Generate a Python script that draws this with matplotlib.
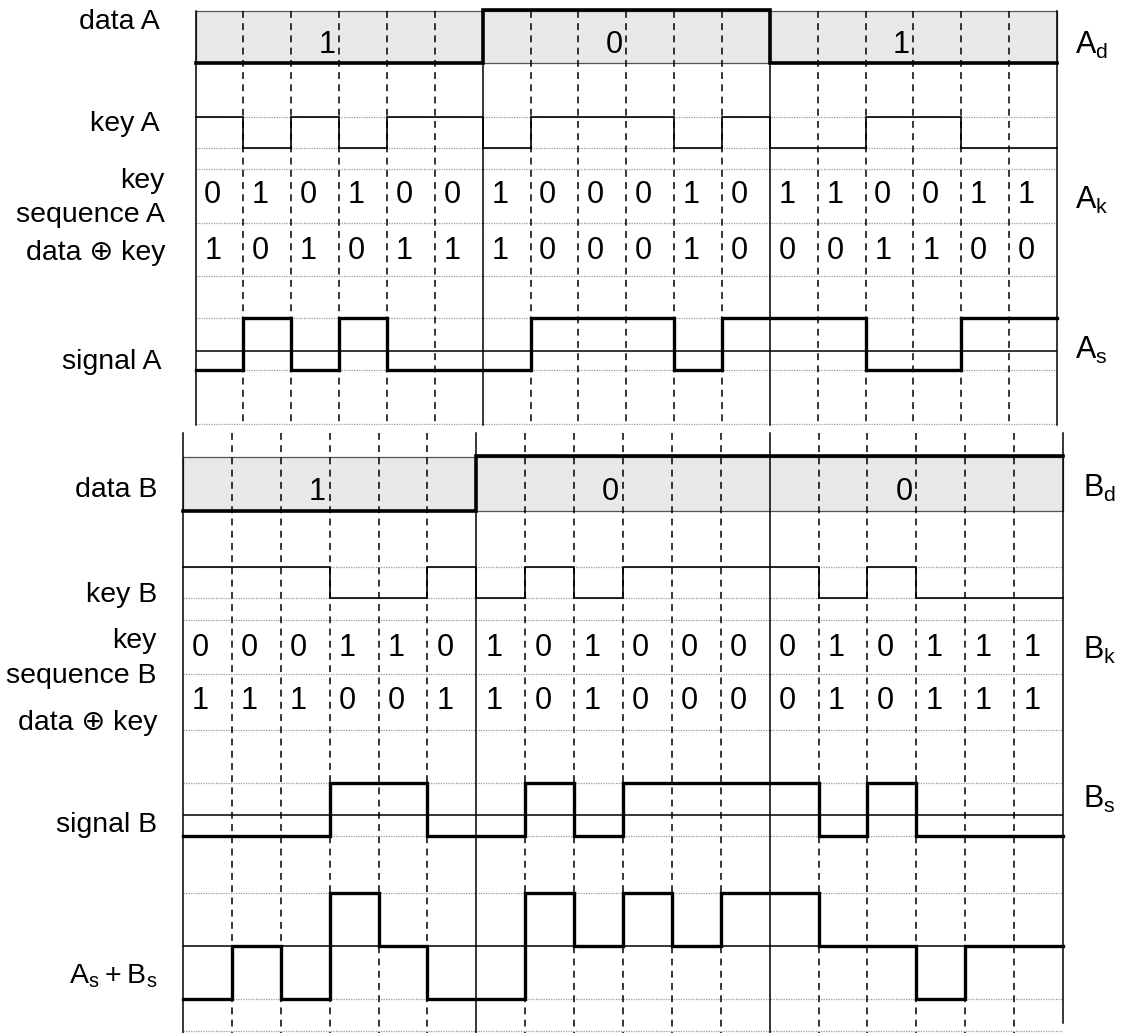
import matplotlib
matplotlib.use("Agg")
import matplotlib.pyplot as plt
from matplotlib.patches import Rectangle
import numpy as np

W, H = 1121, 1033
plt.rcParams['font.family'] = ['Liberation Sans', 'DejaVu Sans']
plt.rcParams['mathtext.default'] = 'regular'

# ── data ──────────────────────────────────────────────────────────
n_bits = 18
data_a = [1, 0, 1]
key_a = [0, 1, 0, 1, 0, 0, 1, 0, 0, 0, 1, 0, 1, 1, 0, 0, 1, 1]
xor_a = [1, 0, 1, 0, 1, 1, 1, 0, 0, 0, 1, 0, 0, 0, 1, 1, 0, 0]
signal_a = [-1, 1, -1, 1, -1, -1, -1, 1, 1, 1, -1, 1, 1, 1, -1, -1, 1, 1]

data_b = [1, 0, 0]
key_b = [0, 0, 0, 1, 1, 0, 1, 0, 1, 0, 0, 0, 0, 1, 0, 1, 1, 1]
xor_b = [1, 1, 1, 0, 0, 1, 1, 0, 1, 0, 0, 0, 0, 1, 0, 1, 1, 1]
signal_b = [-1, -1, -1, 1, 1, -1, -1, 1, -1, 1, 1, 1, 1, -1, 1, -1, -1, -1]

sum_ab = [-2, 0, -2, 2, 0, -2, -2, 2, 0, 2, 0, 2, 2, 0, 0, -2, 0, 0]

fig = plt.figure(figsize=(W / 100, H / 100), dpi=100)

DOT = dict(color="#9a9a9a", lw=0.9, ls=(0, (1, 1)), zorder=1)
DIG = dict(fontsize=22, ha="center", va="center")


def panel(left, right, top, bottom):
    # y axis in image pixels (downwards), x axis in bit periods
    ax = fig.add_axes([left / W, 1 - bottom / H, (right - left) / W, (bottom - top) / H])
    ax.set_xlim(0, n_bits)
    ax.set_ylim(bottom, top)
    ax.axis("off")
    return ax


def wave(ax, vals, y_hi, y_lo, v_hi, v_lo, lw):
    vals = np.asarray(vals, float)
    x = np.linspace(0, n_bits, len(vals) + 1)
    y = y_hi + (v_hi - vals) / (v_hi - v_lo) * (y_lo - y_hi)
    y = np.append(y, y[-1])
    ax.step(x, y, where="post", color="black", lw=lw, zorder=5,
            solid_joinstyle="miter", clip_on=False)


def grid_lines(ax, top, bottom, right_bottom=None):
    for i in range(n_bits + 1):
        if i % 6 == 0:
            b = right_bottom if (i == n_bits and right_bottom) else bottom
            ax.plot([i, i], [top, b], color="black", lw=1.1, zorder=3, clip_on=False)
        else:
            ax.plot([i, i], [top, bottom], color="black", lw=1.1,
                    ls=(0, (4.5, 3.5)), zorder=3, clip_on=False)


def data_box(ax, vals, top, bottom):
    ax.add_patch(Rectangle((0, top), n_bits, bottom - top, facecolor="#e8e8e8",
                           edgecolor="#555555", lw=0.9, zorder=0, clip_on=False))
    wave(ax, vals, top - 1.5, bottom, 0, 1, 2.6)
    for k, v in enumerate(vals):
        ax.text(k * 6 + 3 - 0.08, (top + bottom) / 2 + 8, str(v), fontsize=22,
                ha="right", va="center", zorder=6)


def digits(ax, vals, y):
    for i, v in enumerate(vals):
        ax.text(i + 0.36, y + 3, str(v), **DIG)


def label(x, y, s, ha="right", size=20.5):
    fig.text(x / W, 1 - y / H, s, fontsize=size, ha=ha, va="center")


# ── panel A ──────────────────────────────────────────────────────
ax_a = panel(195.5, 1057, 11, 425)
data_box(ax_a, data_a, 11, 63)
grid_lines(ax_a, 11, 425)
for y in [117, 148, 169, 223, 276, 318, 370, 424]:
    ax_a.axhline(y, **DOT)
wave(ax_a, key_a, 117, 148, 0, 1, 1.2)
digits(ax_a, key_a, 192)
digits(ax_a, xor_a, 248)
ax_a.axhline(351, color="black", lw=1.1, zorder=2)
wave(ax_a, signal_a, 318, 370, 1, -1, 2.4)

# ── panel B ──────────────────────────────────────────────────────
ax_b = panel(183, 1063, 433, 1033)
data_box(ax_b, data_b, 457, 511)
grid_lines(ax_b, 433, 1033, right_bottom=1023)
for y in [567, 598, 620, 674, 730, 783, 836, 893, 999, 1031]:
    ax_b.axhline(y, **DOT)
wave(ax_b, key_b, 567, 598, 0, 1, 1.2)
digits(ax_b, key_b, 645)
digits(ax_b, xor_b, 698)
ax_b.axhline(815, color="black", lw=1.1, zorder=2)
wave(ax_b, signal_b, 783, 836, 1, -1, 2.4)
ax_b.axhline(946, color="black", lw=1.1, zorder=2)
wave(ax_b, sum_ab, 893, 999, 2, -2, 2.4)

# ── left labels ──────────────────────────────────────────────────
label(160, 22, "data A")
label(160, 124, "key A")
label(165, 181, "key")
label(165, 215, "sequence A")
label(165, 253, "data \u2295 key")
label(161, 362, "signal A")

label(157, 490, "data B")
label(157, 595, "key B")
label(157, 641, "key")
label(157, 676, "sequence B")
label(157, 723, "data \u2295 key")
label(157, 825, "signal B")
label(157, 976, r"$A_s + B_s$")

# ── right labels ─────────────────────────────────────────────────
label(1075, 45, r"$A_d$", ha="left", size=22)
label(1075, 200, r"$A_k$", ha="left", size=22)
label(1075, 350, r"$A_s$", ha="left", size=22)
label(1083, 488, r"$B_d$", ha="left", size=22)
label(1083, 650, r"$B_k$", ha="left", size=22)
label(1083, 799, r"$B_s$", ha="left", size=22)

fig.savefig("out.png", dpi=100)
